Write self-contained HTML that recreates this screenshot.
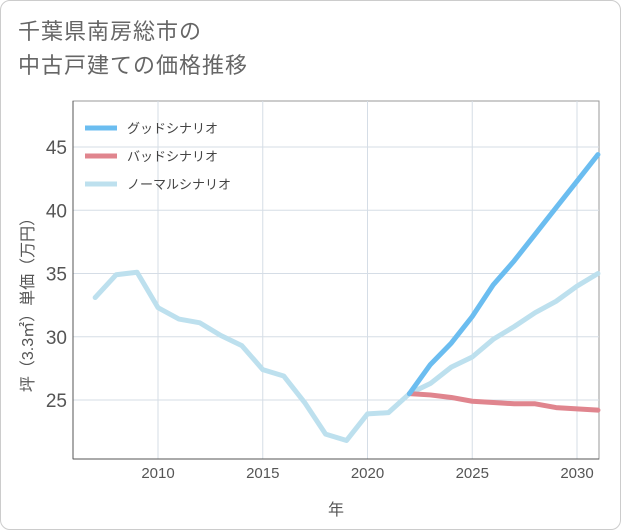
<!DOCTYPE html>
<html><head><meta charset="utf-8"><style>
body{margin:0;background:#fff;}
#wrap{position:relative;width:619px;height:528px;border:1px solid #ccc;border-radius:10px;background:#fff;overflow:hidden;font-family:"Liberation Sans","Noto Sans CJK JP",sans-serif;}
#title{position:absolute;left:17px;top:14px;font-size:22px;line-height:34px;color:#666;letter-spacing:1px;}
svg{position:absolute;left:0;top:0;}
</style></head><body>
<div id="wrap">
<div id="title">千葉県南房総市の<br>中古戸建ての価格推移</div>
<svg id="c" width="621" height="530"></svg>
</div>
<script>
const years=[2007,2008,2009,2010,2011,2012,2013,2014,2015,2016,2017,2018,2019,2020,2021,2022,2023,2024,2025,2026,2027,2028,2029,2030,2031];
const normal=[33.1,34.9,35.1,32.3,31.4,31.1,30.1,29.3,27.4,26.9,24.8,22.3,21.8,23.9,24.0,25.5,26.3,27.6,28.4,29.8,30.8,31.9,32.8,34.0,35.0];
const fYears=[2022,2023,2024,2025,2026,2027,2028,2029,2030,2031];
const good=[25.5,27.8,29.5,31.6,34.1,36.0,38.1,40.2,42.3,44.4];
const bad=[25.5,25.4,25.2,24.9,24.8,24.7,24.7,24.4,24.3,24.2];
const xTicks=[2010,2015,2020,2025,2030];
const yTicks=[25,30,35,40,45];
const legendLabels=["グッドシナリオ","バッドシナリオ","ノーマルシナリオ"];
const colors=["#6bbdf0","#e0858e","#bde0ee"];
const L=72,R=598,T=100,B=458;
const x=v=>157+(v-2010)*(576-157)/20;
const y=v=>399-(v-25)*(399-146)/20;
const svg=document.getElementById('c');const NS='http://www.w3.org/2000/svg';
function mk(t,a,p){const e=document.createElementNS(NS,t);for(const k in a)e.setAttribute(k,a[k]);(p||svg).appendChild(e);return e;}
let r=mk('rect',{x:L,y:T,width:R-L,height:B-T,fill:'#fff',stroke:'#999','stroke-width':1});


xTicks.forEach(v=>{let g=mk('line',{x1:x(v),x2:x(v),y1:T,y2:B,stroke:'#d5dde6'});


let t=mk('text',{x:x(v),y:B+19,'text-anchor':'middle','font-size':15,fill:'#555'});t.textContent=v;

});
yTicks.forEach(v=>{let g=mk('line',{x1:L,x2:R,y1:y(v),y2:y(v),stroke:'#d5dde6'});


let t=mk('text',{x:L-6,y:y(v)+7,'text-anchor':'end','font-size':19,fill:'#555'});t.textContent=v;

});
mk('line',{x1:L,x2:R,y1:B,y2:B,stroke:'#555'});
mk('line',{x1:L,x2:L,y1:T,y2:B,stroke:'#555'});
function line(xs,vs,c,n){let d=xs.map((v,i)=>(i?'L':'M')+x(v)+','+y(vs[i])).join('');
let p=mk('path',{d:d,fill:'none',stroke:c,'stroke-width':5,'stroke-linejoin':'round','stroke-linecap':'round'});

}
line(years,normal,colors[2],'normal-scenario-line');
line(fYears,bad,colors[1],'bad-scenario-line');
line(fYears,good,colors[0],'good-scenario-line');
legendLabels.forEach((lab,i)=>{let yy=127+i*28;
let l=mk('line',{x1:84,x2:116,y1:yy,y2:yy,stroke:colors[i],'stroke-width':5});


let t=mk('text',{x:126,y:yy+5,'font-size':13,fill:'#444'});t.textContent=lab;

});
let xt=mk('text',{x:335,y:514,'text-anchor':'middle','font-size':16,fill:'#555'});xt.textContent='年';


let yt=mk('text',{x:0,y:0,'text-anchor':'middle','font-size':16,fill:'#555',transform:'translate(32,300) rotate(-90)'});yt.textContent='坪（3.3㎡）単価（万円）';


</script>
</body></html>
